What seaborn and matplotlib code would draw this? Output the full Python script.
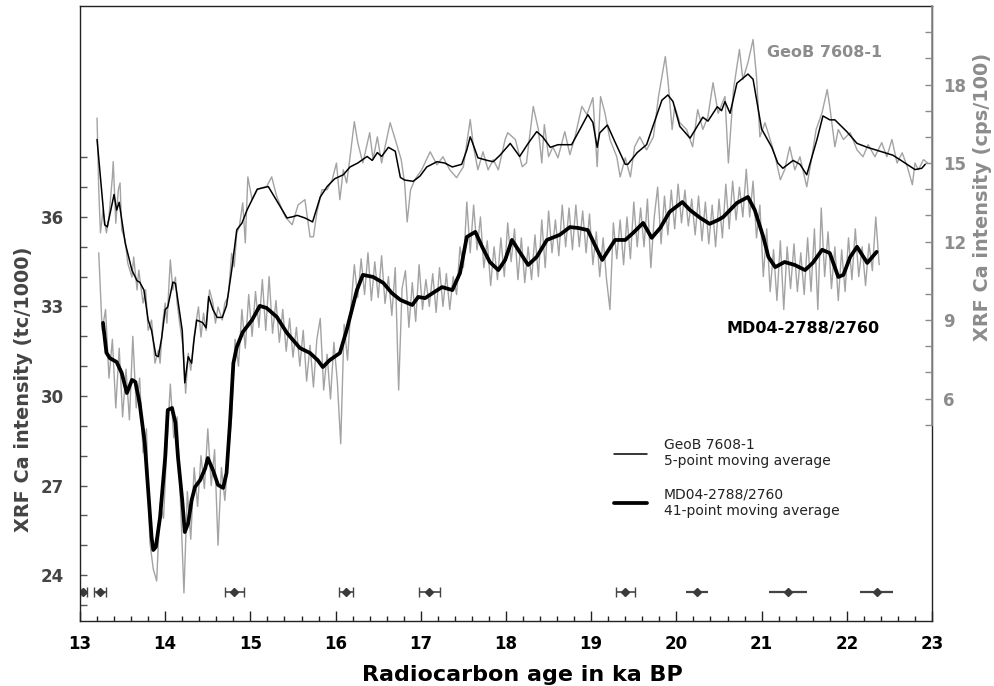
import numpy as np
import pandas as pd
import seaborn as sns
import matplotlib.pyplot as plt
from matplotlib.ticker import MultipleLocator, FixedLocator

# GeoB 7608-1 (right axis, cps/100) - raw record
geob_age = [13.20, 13.22, 13.24, 13.27, 13.31, 13.34, 13.38, 13.39, 13.42, 13.45, 13.47, 13.49, 13.53, 13.56,
            13.61, 13.63, 13.67, 13.69, 13.74, 13.77, 13.80, 13.84, 13.88, 13.92, 13.94, 13.97, 14.00, 14.02,
            14.06, 14.09, 14.12, 14.14, 14.17, 14.21, 14.24, 14.27, 14.30, 14.33, 14.36, 14.39, 14.42, 14.45,
            14.48, 14.52, 14.56, 14.59, 14.62, 14.67, 14.70, 14.74, 14.78, 14.81, 14.84, 14.87, 14.91, 14.94,
            14.97, 15.02, 15.08, 15.14, 15.19, 15.25, 15.31, 15.41, 15.49, 15.56, 15.64, 15.70, 15.74, 15.78,
            15.84, 15.90, 15.96, 16.01, 16.05, 16.09, 16.13, 16.17, 16.22, 16.26, 16.32, 16.40, 16.44, 16.49,
            16.54, 16.64, 16.70, 16.77, 16.81, 16.84, 16.88, 16.93, 17.01, 17.11, 17.19, 17.26, 17.34, 17.42,
            17.50, 17.58, 17.62, 17.67, 17.73, 17.79, 17.85, 17.91, 17.99, 18.02, 18.11, 18.19, 18.24, 18.32,
            18.38, 18.42, 18.45, 18.50, 18.55, 18.61, 18.69, 18.75, 18.81, 18.89, 18.95, 19.02, 19.07, 19.11,
            19.16, 19.22, 19.30, 19.34, 19.40, 19.46, 19.51, 19.57, 19.65, 19.73, 19.79, 19.87, 19.90, 19.95,
            19.98, 20.04, 20.12, 20.19, 20.25, 20.31, 20.37, 20.43, 20.49, 20.57, 20.61, 20.67, 20.74, 20.78,
            20.84, 20.90, 20.94, 20.98, 21.04, 21.10, 21.16, 21.22, 21.27, 21.33, 21.39, 21.45, 21.53, 21.59,
            21.64, 21.71, 21.77, 21.80, 21.86, 21.90, 21.96, 22.04, 22.12, 22.19, 22.25, 22.33, 22.41, 22.47,
            22.53, 22.59, 22.65, 22.71, 22.77, 22.80, 22.84, 22.90, 22.95]
geob_ca = [16.72, 13.98, 12.33, 13.20, 12.33, 12.94, 14.47, 15.05, 12.70, 13.98, 14.24, 12.44, 12.06, 11.18,
           10.64, 11.41, 10.15, 10.91, 9.65, 10.15, 8.61, 9.00, 7.35, 7.85, 7.35, 8.88, 9.65, 8.88,
           11.30, 10.15, 10.64, 9.65, 8.88, 7.96, 6.20, 7.73, 7.08, 8.10, 8.88, 9.50, 8.35, 9.26,
           8.60, 10.15, 9.65, 8.88, 9.50, 9.00, 9.65, 9.90, 11.55, 11.03, 12.33, 12.56, 13.48, 11.95,
           14.47, 13.60, 13.98, 14.06, 14.10, 14.47, 13.71, 12.94, 12.64, 13.40, 13.60, 12.18, 12.18, 13.10,
           13.98, 13.98, 14.36, 15.00, 13.60, 14.74, 14.24, 15.24, 16.58, 15.78, 15.00, 16.16, 15.13, 16.00,
           15.00, 16.54, 15.90, 15.13, 14.24, 12.75, 13.98, 14.36, 14.74, 15.43, 14.93, 15.24, 14.74, 14.44,
           14.86, 16.66, 15.59, 14.74, 15.43, 14.74, 15.13, 14.74, 15.90, 16.16, 15.90, 14.86, 15.00, 17.16,
           16.28, 15.00, 16.47, 15.24, 15.62, 15.20, 16.20, 15.32, 16.00, 17.16, 16.85, 17.50, 14.86, 17.54,
           16.93, 15.90, 15.24, 14.47, 15.20, 14.47, 15.62, 16.00, 15.50, 16.00, 17.54, 19.07, 18.19, 16.28,
           17.16, 16.54, 16.28, 15.62, 17.04, 16.28, 16.77, 18.07, 16.90, 17.54, 15.00, 17.81, 19.34, 18.19,
           18.84, 19.72, 18.31, 16.00, 16.54, 15.90, 15.24, 14.36, 14.74, 15.62, 14.74, 15.24, 14.09, 15.24,
           16.28, 16.93, 17.81, 17.16, 15.62, 16.28, 15.90, 16.16, 15.50, 15.24, 15.70, 15.24, 15.78, 15.24,
           15.90, 15.00, 15.39, 14.86, 14.17, 15.00, 14.74, 15.13, 15.00]

# GeoB 7608-1 - 5-point moving average
geob_ma_age = [13.20, 13.29, 13.32, 13.40, 13.43, 13.46, 13.53, 13.61, 13.67, 13.70, 13.75, 13.80, 13.84, 13.89,
               13.92, 13.96, 14.00, 14.03, 14.09, 14.12, 14.16, 14.20, 14.23, 14.27, 14.31, 14.34, 14.37, 14.44,
               14.48, 14.51, 14.56, 14.61, 14.67, 14.72, 14.78, 14.84, 14.90, 14.96, 15.08, 15.21, 15.32, 15.43,
               15.50, 15.55, 15.64, 15.73, 15.82, 15.90, 15.99, 16.09, 16.17, 16.26, 16.37, 16.43, 16.49, 16.54,
               16.62, 16.70, 16.76, 16.81, 16.91, 16.99, 17.07, 17.19, 17.28, 17.37, 17.48, 17.54, 17.58, 17.61,
               17.67, 17.78, 17.85, 17.93, 18.05, 18.16, 18.26, 18.36, 18.43, 18.52, 18.61, 18.77, 18.87, 18.96,
               19.02, 19.07, 19.10, 19.19, 19.28, 19.40, 19.43, 19.54, 19.65, 19.75, 19.83, 19.90, 19.96, 20.04,
               20.16, 20.31, 20.37, 20.48, 20.53, 20.57, 20.63, 20.71, 20.84, 20.90, 21.00, 21.12, 21.19, 21.25,
               21.37, 21.45, 21.53, 21.65, 21.72, 21.80, 21.86, 22.00, 22.12, 22.24, 22.39, 22.54, 22.66, 22.80,
               22.88, 22.92]
geob_ma = [15.90, 12.64, 12.56, 13.80, 13.20, 13.50, 11.95, 10.90, 10.50, 10.45, 10.15, 9.00, 8.60, 7.65,
           7.60, 8.35, 9.40, 9.50, 10.45, 10.40, 9.50, 8.60, 6.60, 7.60, 7.35, 8.30, 9.00, 8.90,
           8.70, 9.90, 9.40, 9.10, 9.10, 9.55, 10.90, 12.45, 12.70, 13.20, 14.00, 14.10, 13.50, 12.90,
           12.95, 13.00, 12.90, 12.75, 13.70, 14.10, 14.40, 14.55, 14.85, 15.00, 15.25, 15.10, 15.40, 15.25,
           15.60, 15.45, 14.45, 14.35, 14.30, 14.50, 14.85, 15.05, 15.00, 14.85, 14.95, 15.50, 16.00, 15.75,
           15.20, 15.10, 15.05, 15.30, 15.75, 15.25, 15.75, 16.20, 16.00, 15.60, 15.70, 15.70, 16.30, 16.85,
           16.55, 15.60, 16.15, 16.45, 15.80, 14.95, 14.95, 15.40, 15.70, 16.65, 17.40, 17.60, 17.35, 16.40,
           15.95, 16.75, 16.60, 17.15, 17.00, 17.35, 16.90, 18.05, 18.40, 18.20, 16.30, 15.60, 15.00, 14.80,
           15.10, 14.95, 14.55, 15.90, 16.80, 16.65, 16.65, 16.20, 15.75, 15.60, 15.45, 15.30, 15.05, 14.75,
           14.80, 14.95]

# MD04-2788/2760 (left axis, tc/1000) - raw record, samples every 0.04 ka from 13.22 ka
md04_age = np.round(np.arange(13.22, 22.40, 0.04), 2)
md04_ca = [34.8, 32.2, 32.9, 30.6, 31.9, 29.6, 31.6, 29.3, 30.9, 29.2,
           32.0, 29.6, 30.6, 28.1, 28.9, 25.1, 24.2, 23.8, 26.4, 25.9,
           28.3, 30.4, 28.6, 29.3, 26.4, 23.4, 26.8, 25.2, 27.6, 26.3,
           28.0, 26.9, 28.9, 27.0, 28.2, 25.0, 27.6, 26.5, 28.0, 29.3,
           31.9, 31.0, 32.9, 31.6, 33.4, 32.0, 33.5, 32.3, 33.9, 32.2,
           34.0, 32.1, 33.2, 31.8, 32.9, 31.5, 32.6, 31.3, 32.3, 31.0,
           32.2, 30.5, 31.7, 30.3, 31.9, 32.6, 30.2, 31.4, 29.9, 31.8,
           30.5, 28.4, 32.4, 31.2, 33.0, 34.4, 33.3, 34.6, 33.4, 34.8,
           33.2, 34.5, 33.3, 34.7, 33.1, 34.0, 32.7, 34.3, 30.2, 33.6,
           34.2, 32.3, 33.8, 32.5, 34.4, 32.9, 33.9, 33.0, 34.1, 32.8,
           34.3, 33.0, 34.1, 32.9, 34.0, 33.4, 35.0, 34.3, 36.5, 34.8,
           36.4, 34.9, 36.0, 34.3, 35.2, 33.7, 35.0, 33.9, 35.3, 34.0,
           35.8, 34.5, 35.6, 33.9, 35.3, 33.8, 35.0, 33.9, 35.4, 34.0,
           35.9, 34.3, 36.2, 34.8, 35.9, 34.7, 36.4, 35.0, 36.3, 34.9,
           36.4, 35.0, 36.2, 34.8, 36.1, 34.4, 35.5, 34.0, 35.3, 33.9,
           32.9, 35.8, 34.6, 35.9, 34.4, 36.0, 34.6, 36.5, 35.0, 36.3,
           35.0, 36.6, 34.3, 36.0, 37.0, 35.1, 36.7, 35.4, 36.9, 35.6,
           37.1, 35.8, 36.9, 35.7, 36.6, 35.4, 36.7, 35.2, 36.5, 35.1,
           36.4, 35.0, 36.6, 35.3, 37.1, 35.6, 37.2, 35.9, 37.0, 36.0,
           37.6, 36.0, 37.2, 35.3, 36.4, 34.0, 35.6, 33.5, 34.9, 33.2,
           35.2, 32.9, 35.0, 33.6, 35.1, 33.5, 34.8, 33.4, 35.3, 33.5,
           35.6, 32.9, 36.3, 34.0, 35.5, 33.6, 35.0, 33.2, 34.9, 33.5,
           35.3, 33.9, 35.6, 34.0, 35.0, 33.7, 35.1, 34.2, 36.0, 34.4]

# MD04-2788/2760 - 41-point moving average
md04_ma_age = [13.27, 13.31, 13.35, 13.43, 13.49, 13.55, 13.61, 13.65, 13.70, 13.76, 13.80, 13.84, 13.86, 13.89,
               13.94, 14.00, 14.03, 14.08, 14.12, 14.15, 14.20, 14.23, 14.27, 14.31, 14.35, 14.41, 14.47, 14.50,
               14.56, 14.62, 14.68, 14.72, 14.76, 14.80, 14.84, 14.91, 15.02, 15.11, 15.19, 15.31, 15.43, 15.58,
               15.70, 15.79, 15.85, 15.93, 16.05, 16.13, 16.19, 16.25, 16.32, 16.44, 16.56, 16.66, 16.76, 16.90,
               16.97, 17.05, 17.14, 17.25, 17.37, 17.46, 17.54, 17.64, 17.72, 17.81, 17.91, 17.99, 18.07, 18.16,
               18.26, 18.36, 18.48, 18.63, 18.75, 18.85, 18.96, 19.07, 19.13, 19.19, 19.28, 19.40, 19.49, 19.61,
               19.71, 19.81, 19.92, 20.07, 20.16, 20.28, 20.39, 20.49, 20.55, 20.71, 20.84, 20.92, 21.02, 21.08,
               21.16, 21.27, 21.39, 21.51, 21.60, 21.71, 21.80, 21.90, 21.96, 22.04, 22.12, 22.24, 22.35]
md04_ma = [32.45, 31.45, 31.27, 31.14, 30.77, 30.10, 30.54, 30.47, 29.76, 28.42, 26.85, 25.27, 24.84, 24.94,
           25.94, 27.95, 29.53, 29.60, 29.10, 27.95, 26.51, 25.44, 25.74, 26.51, 26.95, 27.18, 27.58, 27.92,
           27.52, 27.02, 26.92, 27.42, 29.09, 31.10, 31.64, 32.14, 32.55, 33.02, 32.95, 32.65, 32.11, 31.61,
           31.44, 31.20, 30.97, 31.20, 31.44, 32.21, 32.88, 33.55, 34.06, 33.99, 33.79, 33.45, 33.22, 33.05,
           33.32, 33.28, 33.45, 33.65, 33.55, 34.12, 35.33, 35.50, 35.00, 34.49, 34.22, 34.56, 35.23, 34.83,
           34.39, 34.66, 35.23, 35.40, 35.66, 35.63, 35.56, 34.90, 34.56, 34.83, 35.23, 35.23, 35.46, 35.80,
           35.30, 35.63, 36.17, 36.50, 36.23, 35.97, 35.77, 35.90, 36.00, 36.47, 36.67, 36.23, 35.33, 34.66,
           34.32, 34.49, 34.39, 34.22, 34.46, 34.90, 34.79, 33.99, 34.06, 34.66, 35.00, 34.46, 34.83]

# radiocarbon dates with 1-sigma ranges
date_age = [13.04, 13.23, 14.81, 16.12, 17.10, 19.40, 20.24, 21.31, 22.35]
date_err = [0.04, 0.07, 0.11, 0.08, 0.12, 0.11, 0.13, 0.22, 0.19]
date_row = 23.43

legend_labels = ['GeoB 7608-1\n5-point moving average',
                 'MD04-2788/2760\n41-point moving average']

sns.set_theme(style='ticks')
plt.rcParams['font.family'] = ['DejaVu Sans']

gray = '#a3a3a3'
fig = plt.figure(figsize=(9.94, 6.86), dpi=100)
ax = fig.add_axes([80 / 994, 1 - 621 / 686, 852 / 994, 615 / 686])
ax2 = ax.twinx()

# left-axis record
sns.lineplot(x=md04_age, y=md04_ca, ax=ax, color=gray, lw=1.0, estimator=None)
sns.lineplot(x=md04_ma_age, y=md04_ma, ax=ax, color='black', lw=2.7, estimator=None)
ax.errorbar(date_age[:6], [date_row] * 6, xerr=date_err[:6], fmt='D', ms=4, color='#3a3a3a',
            ecolor='#444444', elinewidth=1.2, capsize=3.5, capthick=1.0)
ax.errorbar(date_age[6:], [date_row] * 3, xerr=date_err[6:], fmt='D', ms=4, color='#3a3a3a',
            ecolor='#444444', elinewidth=1.6, capsize=0)

# right-axis record
sns.lineplot(x=geob_age, y=geob_ca, ax=ax2, color=gray, lw=1.0, estimator=None)
sns.lineplot(x=geob_ma_age, y=geob_ma, ax=ax2, color='black', lw=1.1, estimator=None)

ax.set_xlim(13, 23)
ax.set_ylim(22.46, 43.07)
ax2.set_ylim(-2.5, 21.0)

ax.xaxis.set_major_locator(MultipleLocator(1))
ax.xaxis.set_minor_locator(MultipleLocator(0.2))
ax.yaxis.set_major_locator(FixedLocator([24, 27, 30, 33, 36]))
ax.yaxis.set_minor_locator(FixedLocator([23, 25, 26, 28, 29, 31, 32, 34, 35, 37, 38]))
ax2.yaxis.set_major_locator(FixedLocator([6, 9, 12, 15, 18]))
ax2.yaxis.set_minor_locator(FixedLocator([5, 7, 8, 10, 11, 13, 14, 16, 17, 19, 20]))

ax.tick_params(axis='x', which='major', direction='in', length=7, width=1.0, colors='#222222',
               labelsize=12, pad=10)
ax.tick_params(axis='x', which='minor', direction='in', length=3.5, width=1.0, colors='#222222')
ax.tick_params(axis='y', which='both', direction='in', length=5, width=1.0, colors='#555555',
               labelsize=12, labelcolor='#444444', pad=11.5)
ax2.tick_params(axis='y', which='both', direction='in', length=5, width=1.0, colors='#8c8c8c',
                labelsize=12, labelcolor='#8c8c8c', pad=8)
ax.tick_params(axis='x', labelcolor='black')
for lab in ax.get_xticklabels() + ax.get_yticklabels() + ax2.get_yticklabels():
    lab.set_fontweight('bold')

for side in ['left', 'right', 'top', 'bottom']:
    ax.spines[side].set_color('#222222')
    ax.spines[side].set_linewidth(1.0)
for side in ['left', 'top', 'bottom']:
    ax2.spines[side].set_visible(False)
ax2.spines['right'].set_color('#8c8c8c')
ax2.spines['right'].set_linewidth(1.2)
ax2.spines['right'].set_bounds(5, 21.0)

ax.set_xlabel('Radiocarbon age in ka BP', fontsize=16, fontweight='bold', color='black')
ax.xaxis.set_label_coords(0.519, -0.071)
ax.set_ylabel('XRF Ca intensity (tc/1000)', fontsize=13.9, fontweight='bold', color='#444444')
ax.yaxis.set_label_coords(-0.055, 0.376)
ax2.set_ylabel('XRF Ca intensity (cps/100)', fontsize=13.9, fontweight='bold', color='#8c8c8c',
               rotation=90)
ax2.yaxis.set_label_coords(1.048, 0.69)

ax2.text(0.874, 0.924, 'GeoB 7608-1', transform=ax2.transAxes, ha='center', va='center',
         fontsize=11.5, fontweight='bold', color='#8c8c8c')
ax2.text(0.849, 0.475, 'MD04-2788/2760', transform=ax2.transAxes, ha='center', va='center',
         fontsize=11.5, fontweight='bold', color='black')

handles = [ax2.lines[1], ax.lines[1]]
leg = ax2.legend(handles, legend_labels, loc='upper left', bbox_to_anchor=(0.612, 0.318),
                 frameon=False, fontsize=10, handlelength=2.4, handletextpad=1.2,
                 labelspacing=1.4)
for t in leg.get_texts():
    t.set_color('#222222')

fig.savefig('out.png', dpi=100)
